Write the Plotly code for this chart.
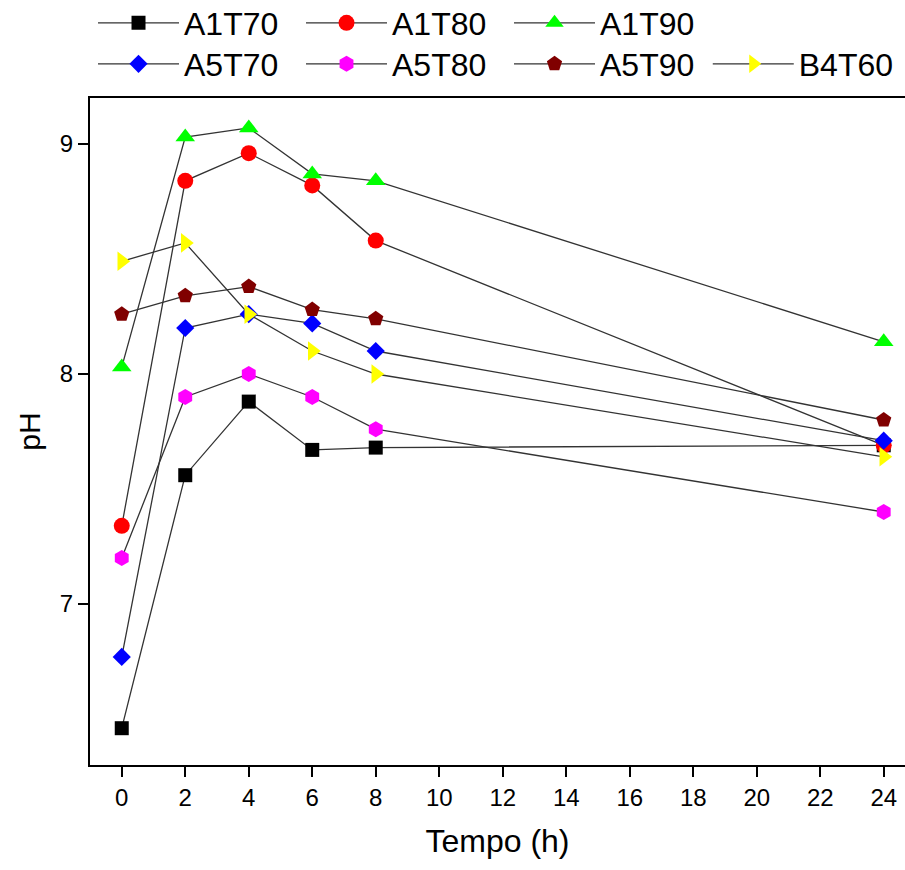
import plotly.graph_objects as go

# Sampling times (h)
tempo = [0, 2, 4, 6, 8, 24]

# pH readings per sample
a1t70 = [6.46, 7.56, 7.88, 7.67, 7.68, 7.69]
a1t80 = [7.34, 8.84, 8.96, 8.82, 8.58, 7.69]
a1t90 = [8.03, 9.03, 9.07, 8.87, 8.84, 8.14]
a5t70 = [6.77, 8.20, 8.26, 8.22, 8.10, 7.71]
a5t80 = [7.20, 7.90, 8.00, 7.90, 7.76, 7.40]
a5t90 = [8.26, 8.34, 8.38, 8.28, 8.24, 7.80]
b4t60 = [8.49, 8.57, 8.26, 8.10, 8.00, 7.64]

x_ticks = list(range(0, 25, 2))
y_ticks = [7, 8, 9]

series = [
    ("A1T70", a1t70, "#000000", "square", 14, "legend"),
    ("A1T80", a1t80, "#FF0000", "circle", 16, "legend"),
    ("A1T90", a1t90, "#00FF00", "triangle-up", 17, "legend"),
    ("A5T70", a5t70, "#0000FF", "diamond", 14, "legend2"),
    ("A5T80", a5t80, "#FF00FF", "hexagon", 16, "legend2"),
    ("A5T90", a5t90, "#800000", "pentagon", 16, "legend2"),
    ("B4T60", b4t60, "#FFFF00", "triangle-right", 17, "legend3"),
]

FONT = "Arial, Liberation Sans, sans-serif"

fig = go.Figure()
for name, vals, color, symbol, size, leg in series:
    fig.add_trace(go.Scatter(
        x=tempo, y=vals, name=name, mode="lines+markers",
        line=dict(color="#333333", width=1.3),
        marker=dict(color=color, symbol=symbol, size=size, line=dict(width=0)),
        legend=leg,
    ))

legend_common = dict(
    orientation="h", xanchor="left", yanchor="middle",
    font=dict(family=FONT, size=32, color="#000000"),
    itemwidth=81, entrywidth=112, entrywidthmode="pixels",
    bgcolor="rgba(0,0,0,0)", borderwidth=0, tracegroupgap=0,
    itemsizing="trace",
)

fig.update_layout(
    width=905, height=870,
    margin=dict(l=90, r=0, t=98, b=105, autoexpand=False),
    paper_bgcolor="white", plot_bgcolor="white",
    font=dict(family=FONT, color="#000000"),
    legend=dict(x=0.0037, y=1.1124, **legend_common),
    legend2=dict(x=0.0037, y=1.051, **legend_common),
    legend3=dict(x=0.758, y=1.051, **legend_common),
    xaxis=dict(
        range=[-1.0, 24.67], tickvals=x_ticks, ticktext=[str(v) for v in x_ticks],
        showline=True, linecolor="black", linewidth=2, mirror=True,
        ticks="outside", ticklen=10, tickwidth=2, tickcolor="black",
        tickfont=dict(size=24, family=FONT), showgrid=False, zeroline=False,
        title=dict(text="Tempo (h)", font=dict(size=32, family=FONT), standoff=20),
        automargin=False,
    ),
    yaxis=dict(
        range=[6.3, 9.2], tickvals=y_ticks, ticktext=[str(v) for v in y_ticks],
        showline=True, linecolor="black", linewidth=2, mirror=False,
        ticks="outside", ticklen=10, tickwidth=2, tickcolor="black",
        tickfont=dict(size=24, family=FONT), showgrid=False, zeroline=False,
        title=dict(text="pH", font=dict(size=30, family=FONT), standoff=10),
        automargin=False,
    ),
)

fig.write_html("out.html")
